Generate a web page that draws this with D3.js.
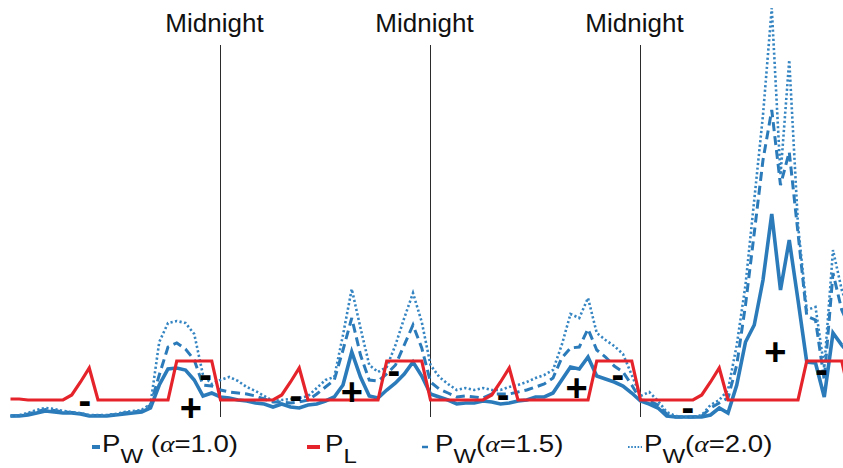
<!DOCTYPE html>
<html>
<head>
<meta charset="utf-8">
<script src="https://cdn.jsdelivr.net/npm/d3@7"></script>
<style>
  html, body { margin: 0; padding: 0; background: #fff; }
  svg { display: block; }
</style>
</head>
<body>
<svg id="chart" width="843" height="468"></svg>
<script>
// Hourly power over four days (arbitrary units)
const pwAlpha10 = [
  0.2,0.2,0.25,0.35,0.45,0.4,0.35,0.35,0.3,0.2,0.2,0.2,0.25,0.3,0.35,0.4,0.6,1.75,2.55,2.6,2.5,2.0,1.2,1.35,
  1.15,1.1,1.0,0.95,0.85,0.8,0.65,0.8,0.65,0.6,0.75,0.8,0.95,1.15,1.75,3.4,2.15,1.2,1.1,1.5,1.85,2.3,2.9,2.2,
  1.3,1.15,1.0,0.8,0.85,0.85,0.95,0.9,0.8,0.85,0.95,1.0,1.15,1.15,1.35,2.0,2.65,2.55,3.15,2.2,2.05,1.9,1.7,1.35,
  0.95,0.8,0.6,0.2,0.15,0.15,0.15,0.15,0.25,0.6,0.35,1.75,3.9,4.75,7.0,10.3,6.5,9.0,6.0,2.9,2.85,1.15,4.35,3.75,3.25
];
const pwAlpha15 = [
  0.2,0.22,0.3,0.42,0.52,0.48,0.4,0.38,0.32,0.22,0.22,0.22,0.28,0.35,0.4,0.45,0.75,2.25,3.65,3.85,3.55,3.0,1.75,1.7,
  1.5,1.4,1.35,1.3,1.2,1.05,0.9,0.9,0.85,0.9,1.0,1.3,1.65,2.0,3.5,5.1,3.25,2.0,1.95,2.3,2.75,3.75,4.75,3.6,
  1.9,1.55,1.35,1.15,1.2,1.15,1.1,1.3,1.3,1.3,1.4,1.5,1.65,1.8,2.1,3.1,3.6,3.65,4.55,3.5,3.15,2.7,2.4,1.75,
  1.0,0.95,0.75,0.3,0.15,0.15,0.15,0.2,0.6,0.85,1.1,2.75,5.75,9.35,13.0,15.5,11.75,13.4,9.35,5.2,5.0,2.0,7.35,5.5,4.5
];
const pwAlpha20 = [
  0.2,0.25,0.35,0.5,0.6,0.55,0.45,0.4,0.35,0.25,0.25,0.25,0.3,0.4,0.45,0.5,0.8,3.9,4.85,4.95,4.85,4.3,2.25,1.8,
  2.0,2.15,1.95,1.65,1.45,1.2,0.95,1.0,1.05,1.1,1.2,1.6,2.0,2.15,4.25,6.55,4.6,2.75,2.4,2.65,3.75,5.1,6.35,4.9,
  2.75,2.15,1.8,1.5,1.6,1.5,1.6,1.5,1.5,1.65,1.75,1.9,2.1,2.25,2.5,3.75,5.3,5.1,6.1,4.35,4.0,3.7,3.3,2.25,
  1.2,1.4,0.95,0.4,0.2,0.15,0.15,0.25,0.75,1.0,1.5,3.75,6.75,11.0,15.25,20.6,12.25,18.0,9.75,5.5,5.65,2.6,8.5,6.5,5.25
];
const pLoad = [
  1.05,1.05,1.0,1.0,1.0,1.0,1.0,1.25,1.9,2.6,1.0,1.0,1.0,1.0,1.0,1.0,1.0,1.0,1.0,2.95,2.95,2.95,2.95,2.95,
  1.0,1.0,1.0,1.0,1.0,1.0,1.0,1.25,1.9,2.6,1.0,1.0,1.0,1.0,1.0,1.0,1.0,1.0,1.0,2.95,2.95,2.95,2.95,2.95,
  1.0,1.0,1.0,1.0,1.0,1.0,1.0,1.25,1.9,2.6,1.0,1.0,1.0,1.0,1.0,1.0,1.0,1.0,1.0,2.95,2.95,2.95,2.95,2.95,
  1.0,1.0,1.0,1.0,1.0,1.0,1.0,1.25,1.9,2.6,1.0,1.0,1.0,1.0,1.0,1.0,1.0,1.0,1.0,2.95,2.95,2.95,2.95,2.95,
  1.0
];
const hours = pLoad.map((_, i) => i);
const midnights = [24, 48, 72];
const midnightLabel = "Midnight";

// Surplus (+) / deficit (-) markers: hour, power level, sign
const signHours = [8.5, 20.6, 22.3, 32.6, 39.0, 43.8, 56.3, 64.7, 69.4, 77.4, 87.4, 92.7];
const signLevels = [0.85, 0.6, 2.15, 1.1, 1.4, 2.35, 1.15, 1.6, 2.15, 0.5, 3.4, 2.4];
const signTexts = ["-", "+", "-", "-", "+", "-", "-", "+", "-", "-", "+", "-"];

const BLUE = "#2b7bba";
const BLUE_LIGHT = "#3585c2";
const RED = "#e5232a";

const svg = d3.select("#chart");
svg.append("rect").attr("width", 843).attr("height", 468).attr("fill", "#fff");

const x = d3.scaleLinear().domain([0, 96]).range([10.5, 850.5]);
const y = d3.scaleLinear().domain([0, 21]).range([420, 0]);

// Midnight markers
const mid = svg.append("g");
mid.selectAll("line").data(midnights).join("line")
  .attr("x1", d => x(d)).attr("x2", d => x(d))
  .attr("y1", 45).attr("y2", 417)
  .attr("stroke", "#2b2b2b").attr("stroke-width", 1);
mid.selectAll("text").data(midnights).join("text")
  .attr("x", d => x(d) - 6).attr("y", 32)
  .attr("text-anchor", "middle")
  .attr("font-family", "'Liberation Sans', Arial, sans-serif")
  .attr("font-size", 26)
  .attr("fill", "#111")
  .text(midnightLabel);

const line = d3.line().x((d, i) => x(hours[i])).y(d => y(d));

const series = [
  { data: pwAlpha10, color: BLUE, width: 3.6, dash: null },
  { data: pwAlpha15, color: BLUE, width: 3.0, dash: "9,5" },
  { data: pwAlpha20, color: BLUE_LIGHT, width: 2.6, dash: "2.2,2.4" },
  { data: pLoad, color: RED, width: 3.2, dash: null }
];

svg.append("g").selectAll("path").data(series).join("path")
  .attr("d", d => line(d.data))
  .attr("fill", "none")
  .attr("stroke", d => d.color)
  .attr("stroke-width", d => d.width)
  .attr("stroke-dasharray", d => d.dash)
  .attr("stroke-linecap", "butt")
  .attr("stroke-linejoin", "miter");

// Surplus / deficit signs
svg.append("g").selectAll("text").data(signTexts).join("text")
  .attr("x", (d, i) => x(signHours[i]))
  .attr("y", (d, i) => y(signLevels[i]))
  .attr("dy", d => d === "+" ? "0.34em" : "0.28em")
  .attr("text-anchor", "middle")
  .attr("font-family", "'Liberation Sans', Arial, sans-serif")
  .attr("font-weight", "bold")
  .attr("font-size", 38)
  .attr("fill", "#000")
  .text(d => d);

// Legend
const legendItems = [
  { mx1: 92, mx2: 100, color: BLUE, width: 4, dash: null, tx: 102, sub: "W", tail: [" (", "α", "=1.0)"] },
  { mx1: 307, mx2: 320, color: RED, width: 4, dash: null, tx: 325, sub: "L", tail: [] },
  { mx1: 422, mx2: 428, color: BLUE, width: 2.5, dash: null, tx: 435, sub: "W", tail: ["(", "α", "=1.5)"] },
  { mx1: 628, mx2: 642, color: BLUE_LIGHT, width: 2, dash: "1.6,1.6", tx: 644, sub: "W", tail: ["(", "α", "=2.0)"] }
];

const legend = svg.append("g");
legendItems.forEach(it => {
  legend.append("line")
    .attr("x1", it.mx1).attr("x2", it.mx2)
    .attr("y1", 447).attr("y2", 447)
    .attr("stroke", it.color).attr("stroke-width", it.width)
    .attr("stroke-dasharray", it.dash);
  const g = legend.append("g").attr("transform", `translate(${it.tx},0) scale(1.2,1)`);
  const t = g.append("text")
    .attr("x", 0).attr("y", 452)
    .attr("font-family", "'Liberation Sans', Arial, sans-serif")
    .attr("font-size", 23)
    .attr("fill", "#111");
  t.append("tspan").text("P");
  t.append("tspan").attr("dy", 11).attr("font-size", 20).text(it.sub);
  it.tail.forEach((s, k) => {
    const sp = t.append("tspan").text(s);
    if (k === 0) sp.attr("dy", -11);
    if (s === "α") sp.attr("font-family", "'Liberation Serif', 'Times New Roman', serif").attr("font-style", "italic");
  });
});
</script>
</body>
</html>
